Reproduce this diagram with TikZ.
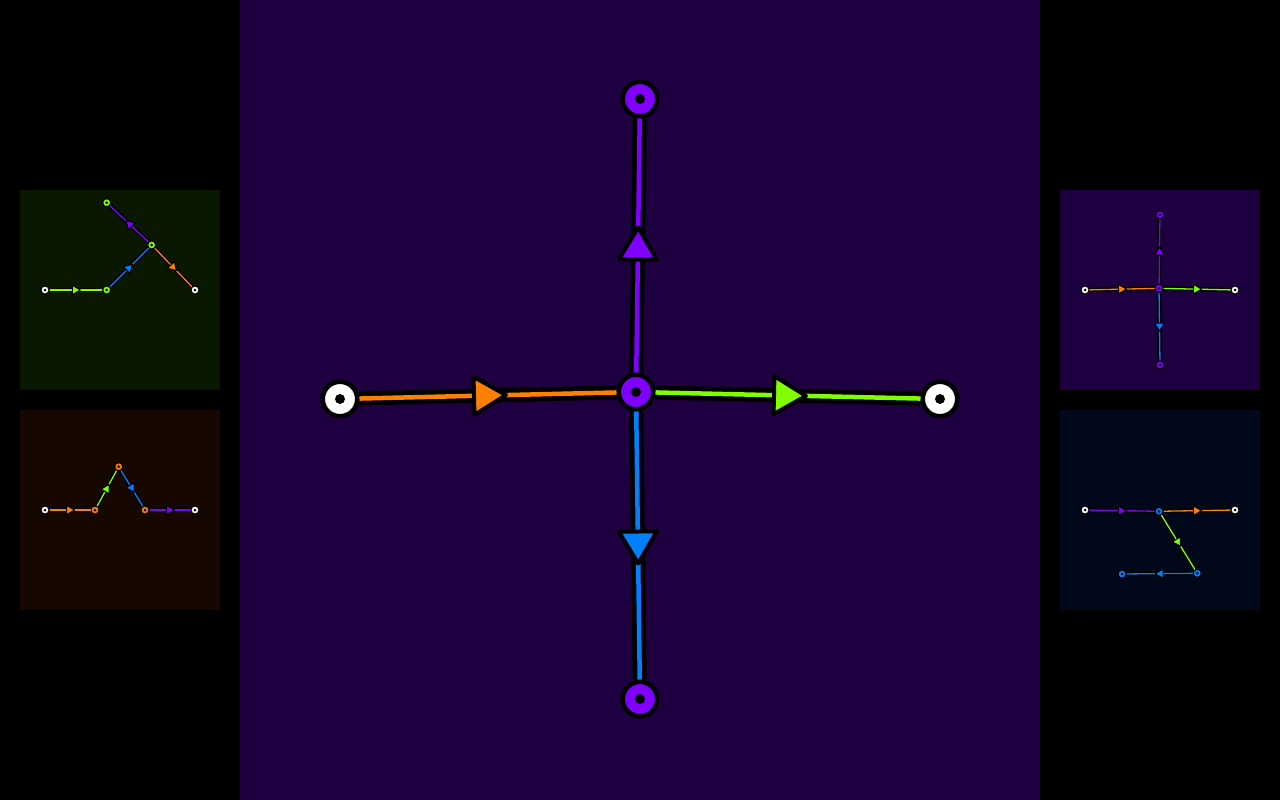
\documentclass[tikz,border=0pt]{standalone}
\usetikzlibrary{graphs, decorations.markings}

\definecolor{vpurple}{RGB}{128,0,255}
\definecolor{vorange}{RGB}{255,128,0}
\definecolor{vgreen}{RGB}{128,255,0}
\definecolor{vblue}{RGB}{0,128,255}
\definecolor{bgpurple}{RGB}{30,0,64}
\definecolor{bggreen}{RGB}{10,24,0}
\definecolor{bgorange}{RGB}{22,8,0}
\definecolor{bgblue}{RGB}{0,8,26}

\tikzset{
	bignode/.style={circle, draw=black, line width=4.5pt, fill=#1, minimum size=34.5pt, inner sep=0pt,
		path picture={\fill[black] (path picture bounding box.center) circle (5pt);}},
	smallnode/.style={circle, draw=black, line width=1pt, fill=#1, minimum size=8pt, inner sep=0pt,
		path picture={\fill[black] (path picture bounding box.center) circle (1.5pt);}},
	bigedge/.style={draw=#1, line width=4.5pt,
		preaction={draw=black, line width=14pt},
		postaction={decorate, decoration={markings, mark=at position 0.5 with {
			\filldraw[draw=black, fill=#1, line width=4pt, line join=round] (18pt,0pt) -- (-14pt,19pt) -- (-14pt,-19pt) -- cycle;}}}},
	smalledge/.style={draw=#1, line width=1.3pt,
		preaction={draw=black, line width=4.5pt},
		postaction={decorate, decoration={markings, mark=at position 0.5 with {
			\filldraw[draw=black, fill=#1, line width=1pt, line join=round] (4.5pt,0pt) -- (-3.5pt,4.75pt) -- (-3.5pt,-4.75pt) -- cycle;}}}},
}

\begin{document}
\begin{tikzpicture}[x=1pt, y=-1pt]
	\useasboundingbox (0,0) rectangle (1280,800);
	\fill[black] (0,0) rectangle (1280,800);
	\fill[bgpurple] (240,0) rectangle (1040,800);
	\fill[bggreen] (20,190) rectangle (220,390);
	\fill[bgorange] (20,410) rectangle (220,610);
	\fill[bgpurple] (1060,190) rectangle (1260,390);
	\fill[bgblue] (1060,410) rectangle (1260,610);

	% main graph
	\node[bignode=vpurple] (cen) at (636,392) {};
	\node[bignode=vpurple] (top) at (640,99)  {};
	\node[bignode=vpurple] (bot) at (640,699) {};
	\node[bignode=white]   (lft) at (340,399) {};
	\node[bignode=white]   (rgt) at (940,399) {};

	\graph{
		(lft) --[bigedge=vorange] (cen);
		(cen) --[bigedge=vgreen]  (rgt);
		(cen) --[bigedge=vpurple] (top);
		(cen) --[bigedge=vblue]   (bot);
	};

	% green panel
	\node[smallnode=white]  (g1) at (45,290)    {};
	\node[smallnode=vgreen] (g2) at (106.7,290) {};
	\node[smallnode=vgreen] (g3) at (151.7,245) {};
	\node[smallnode=vgreen] (g4) at (106.7,202.7) {};
	\node[smallnode=white]  (g5) at (195,290)   {};

	\graph{
		(g1) --[smalledge=vgreen]  (g2) --[smalledge=vblue] (g3);
		(g3) --[smalledge=vpurple] (g4);
		(g3) --[smalledge=vorange] (g5);
	};

	% orange panel
	\node[smallnode=white]   (o1) at (45,510)      {};
	\node[smallnode=vorange] (o2) at (95,510)      {};
	\node[smallnode=vorange] (o3) at (118.7,466.7) {};
	\node[smallnode=vorange] (o4) at (145,510)     {};
	\node[smallnode=white]   (o5) at (195,510)     {};

	\graph{
		(o1) --[smalledge=vorange] (o2) --[smalledge=vgreen] (o3)
		     --[smalledge=vblue] (o4) --[smalledge=vpurple] (o5);
	};

	% purple panel
	\node[smallnode=vpurple] (p1) at (1159,288.3) {};
	\node[smallnode=vpurple] (p2) at (1160,214.7) {};
	\node[smallnode=vpurple] (p3) at (1160,365)   {};
	\node[smallnode=white]   (p4) at (1085,290)   {};
	\node[smallnode=white]   (p5) at (1235,290)   {};

	\graph{
		(p4) --[smalledge=vorange] (p1);
		(p1) --[smalledge=vgreen]  (p5);
		(p1) --[smalledge=vpurple] (p2);
		(p1) --[smalledge=vblue]   (p3);
	};

	% blue panel
	\node[smallnode=white] (b1) at (1085,510)     {};
	\node[smallnode=vblue] (b2) at (1159,511.3)   {};
	\node[smallnode=white] (b3) at (1235,510)     {};
	\node[smallnode=vblue] (b4) at (1197.3,573.3) {};
	\node[smallnode=vblue] (b5) at (1122,574)     {};

	\graph{
		(b1) --[smalledge=vpurple] (b2) --[smalledge=vorange] (b3);
		(b2) --[smalledge=vgreen]  (b4) --[smalledge=vblue] (b5);
	};
\end{tikzpicture}
\end{document}
